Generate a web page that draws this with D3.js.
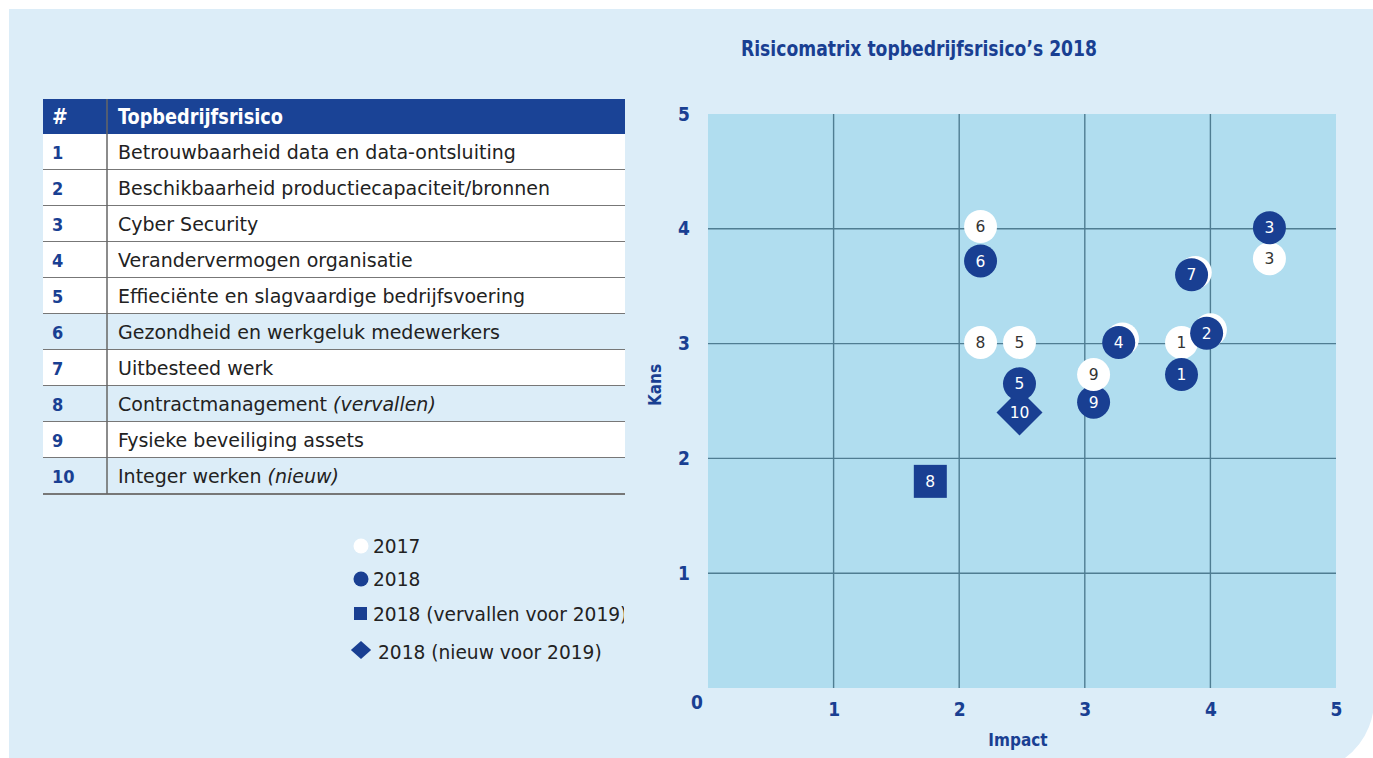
<!DOCTYPE html>
<html>
<head>
<meta charset="utf-8">
<script src="https://cdn.jsdelivr.net/npm/d3@7/dist/d3.min.js"></script>
<style>
  body { margin: 0; background: #fff; }
  svg { display: block; }
</style>
</head>
<body>
<div id="chart"></div>
<script>
// risk table
var riskIds = ["1", "2", "3", "4", "5", "6", "7", "8", "9", "10"];
var riskNames = [
  "Betrouwbaarheid data en data-ontsluiting",
  "Beschikbaarheid productiecapaciteit/bronnen",
  "Cyber Security",
  "Verandervermogen organisatie",
  "Effieciënte en slagvaardige bedrijfsvoering",
  "Gezondheid en werkgeluk medewerkers",
  "Uitbesteed werk",
  "Contractmanagement",
  "Fysieke beveiliging assets",
  "Integer werken"
];
var riskNotes = ["", "", "", "", "", "", "", "(vervallen)", "", "(nieuw)"];

// 2017 positions (white circles)
var labels2017 = ["6", "8", "5", "9", "1", "3", "7", "4", "2"];
var impact2017 = [2.17, 2.17, 2.48, 3.07, 3.77, 4.47, 3.88, 3.30, 4.00];
var kans2017   = [4.02, 3.01, 3.01, 2.73, 3.01, 3.74, 3.62, 3.04, 3.12];
// these 2017 circles sit right behind their 2018 circle, number not visible
var covered2017 = ["7", "4", "2"];

// 2018 positions (dark circles)
var labels2018 = ["6", "3", "7", "2", "4", "1", "9", "5"];
var impact2018 = [2.17, 4.47, 3.85, 3.97, 3.27, 3.77, 3.07, 2.48];
var kans2018   = [3.72, 4.01, 3.60, 3.09, 3.01, 2.73, 2.49, 2.65];

// 2018 vervallen (square) and nieuw (diamond)
var labelsGone = ["8"];
var impactGone = [1.77];
var kansGone   = [1.80];
var labelsNew = ["10"];
var impactNew = [2.48];
var kansNew   = [2.40];

var ticks = [1, 2, 3, 4, 5];
var legendLabels = ["2017", "2018", "2018 (vervallen voor 2019)", "2018 (nieuw voor 2019)"];

var W = 1373, H = 758;
var navy = "#193f92";
var panel = "#dcedf8";
var narrow = "'Liberation Sans Narrow', 'DejaVu Sans Condensed', 'Arial Narrow', sans-serif";
var verd = "'DejaVu Sans', Verdana, sans-serif";

var svg = d3.select("#chart").append("svg")
  .attr("width", W)
  .attr("height", H);

// panel with rounded bottom-right corner
svg.append("path")
  .attr("d", "M9,9 H" + W + " V688 A72,72 0 0 1 1345," + H + " H9 Z")
  .attr("fill", panel);

// ---- table ----
var tx = 43, tw = 582, colX = 107, headTop = 99, headH = 35, rowH = 36;
var table = svg.append("g");

table.append("rect")
  .attr("x", tx).attr("y", headTop)
  .attr("width", tw).attr("height", headH)
  .attr("fill", "#1a4396");

table.append("text")
  .attr("x", 52).attr("y", headTop + 25)
  .attr("fill", "#fff")
  .style("font-family", narrow).style("font-weight", "bold").style("font-size", "21px")
  .text("#");
table.append("text")
  .attr("x", 118).attr("y", headTop + 25)
  .attr("fill", "#fff")
  .attr("textLength", 165).attr("lengthAdjust", "spacingAndGlyphs")
  .style("font-family", narrow).style("font-weight", "bold").style("font-size", "22px")
  .text("Topbedrijfsrisico");

var rows = table.selectAll("g.row")
  .data(riskIds)
  .enter().append("g")
  .attr("class", "row")
  .attr("transform", function(d, i) { return "translate(0," + (headTop + headH + i * rowH) + ")"; });

rows.append("rect")
  .attr("x", tx).attr("width", tw).attr("height", rowH)
  .attr("fill", function(d, i) { return (i === 5 || i === 7 || i === 9) ? panel : "#fff"; });

rows.append("line")
  .attr("x1", tx).attr("x2", tx + tw)
  .attr("y1", rowH).attr("y2", rowH)
  .attr("stroke", "#777").attr("stroke-width", 2);

rows.append("text")
  .attr("x", 52).attr("y", 25)
  .attr("fill", navy)
  .style("font-family", narrow).style("font-weight", "bold").style("font-size", "18px")
  .text(function(d) { return d; });

var desc = rows.append("text")
  .attr("x", 118).attr("y", 25)
  .attr("fill", "#222")
  .style("font-family", verd).style("font-size", "19px");
desc.append("tspan").text(function(d, i) { return riskNames[i]; });
desc.append("tspan")
  .style("font-style", "italic")
  .text(function(d, i) { return riskNotes[i] ? " " + riskNotes[i] : ""; });

table.append("line")
  .attr("x1", colX).attr("x2", colX)
  .attr("y1", headTop).attr("y2", headTop + headH + rowH * riskIds.length)
  .attr("stroke", "#666").attr("stroke-width", 1.5);

// ---- legend ----
svg.append("clipPath").attr("id", "legclip")
  .append("rect").attr("x", 340).attr("y", 520).attr("width", 284).attr("height", 160);

var leg = svg.append("g").attr("clip-path", "url(#legclip)");
var legY = [546, 579, 614, 652];

leg.append("circle").attr("cx", 361).attr("cy", legY[0]).attr("r", 7.5).attr("fill", "#fff");
leg.append("circle").attr("cx", 361).attr("cy", legY[1]).attr("r", 7.5).attr("fill", navy);
leg.append("rect").attr("x", 354).attr("y", legY[2] - 7).attr("width", 13).attr("height", 13).attr("fill", navy);
leg.append("path").attr("d", d3.symbol().type(d3.symbolDiamond2).size(260))
  .attr("transform", "translate(361," + (legY[3] - 2) + ") scale(1,0.9)")
  .attr("fill", navy);

leg.selectAll("text.leg")
  .data(legendLabels)
  .enter().append("text")
  .attr("class", "leg")
  .attr("x", function(d, i) { return i === 3 ? 378 : 373; })
  .attr("y", function(d, i) { return legY[i] + 7; })
  .attr("fill", "#222")
  .style("font-family", verd).style("font-size", "18.6px")
  .text(function(d) { return d; });

// ---- matrix ----
var px0 = 708, px1 = 1336, py0 = 688, py1 = 114;
var x = d3.scaleLinear().domain([0, 5]).range([px0, px1]);
var y = d3.scaleLinear().domain([0, 5]).range([py0, py1]);

svg.append("text")
  .attr("x", 741).attr("y", 56)
  .attr("fill", navy)
  .attr("textLength", 356).attr("lengthAdjust", "spacingAndGlyphs")
  .style("font-family", narrow).style("font-weight", "bold").style("font-size", "22px")
  .text("Risicomatrix topbedrijfsrisico’s 2018");

svg.append("rect")
  .attr("x", px0).attr("y", py1)
  .attr("width", px1 - px0).attr("height", py0 - py1)
  .attr("fill", "#b0ddef");

var grid = svg.append("g").attr("stroke", "#4f7d92").attr("stroke-width", 1.4);
grid.selectAll("line.v")
  .data([1, 2, 3, 4])
  .enter().append("line")
  .attr("x1", function(d) { return x(d); }).attr("x2", function(d) { return x(d); })
  .attr("y1", py1).attr("y2", py0);
grid.selectAll("line.h")
  .data([1, 2, 3, 4])
  .enter().append("line")
  .attr("y1", function(d) { return y(d); }).attr("y2", function(d) { return y(d); })
  .attr("x1", px0).attr("x2", px1);

var xAxis = svg.append("g")
  .attr("transform", "translate(0," + py0 + ")")
  .call(d3.axisBottom(x).tickValues(ticks).tickSize(0).tickPadding(15).tickFormat(d3.format("d")));
var yAxis = svg.append("g")
  .attr("transform", "translate(" + px0 + ",0)")
  .call(d3.axisLeft(y).tickValues(ticks).tickSize(0).tickPadding(18).tickFormat(d3.format("d")));

[xAxis, yAxis].forEach(function(a) {
  a.select(".domain").remove();
  a.selectAll("text")
    .attr("fill", navy)
    .style("font-family", narrow).style("font-weight", "bold").style("font-size", "19px");
});

svg.append("text")
  .attr("x", 697).attr("y", 709)
  .attr("text-anchor", "middle")
  .attr("fill", navy)
  .style("font-family", narrow).style("font-weight", "bold").style("font-size", "19px")
  .text("0");

svg.append("text")
  .attr("x", 1018).attr("y", 746)
  .attr("text-anchor", "middle")
  .attr("fill", navy)
  .style("font-family", narrow).style("font-weight", "bold").style("font-size", "17px")
  .text("Impact");

svg.append("text")
  .attr("transform", "translate(661,385) rotate(-90)")
  .attr("text-anchor", "middle")
  .attr("fill", navy)
  .style("font-family", narrow).style("font-weight", "bold").style("font-size", "17px")
  .text("Kans");

// markers
var r = 16.5;
var marks = svg.append("g");

function addMarks(labels, xs, ys, kind, fill, textFill, hidden) {
  var g = marks.selectAll(null)
    .data(labels.map(function(l, i) { return { label: l, x: xs[i], y: ys[i] }; }))
    .enter().append("g")
    .attr("transform", function(d) { return "translate(" + x(d.x) + "," + y(d.y) + ")"; });
  if (kind === "circle") {
    g.append("circle").attr("r", r).attr("fill", fill);
  } else if (kind === "square") {
    g.append("rect").attr("x", -16.5).attr("y", -16.5).attr("width", 33).attr("height", 33).attr("fill", fill);
  } else {
    g.append("path").attr("d", "M0,-23 L23,0 L0,23 L-23,0 Z").attr("fill", fill);
  }
  g.filter(function(d) { return !hidden || hidden.indexOf(d.label) < 0; })
    .append("text")
    .attr("text-anchor", "middle")
    .attr("dy", "0.36em")
    .attr("fill", textFill)
    .style("font-family", verd).style("font-size", "15.5px")
    .text(function(d) { return d.label; });
  return g;
}

var g2017 = addMarks(labels2017, impact2017, kans2017, "circle", "#fff", "#333", covered2017);
addMarks(labelsNew, impactNew, kansNew, "diamond", navy, "#fff");
addMarks(labels2018, impact2018, kans2018, "circle", navy, "#fff");
addMarks(labelsGone, impactGone, kansGone, "square", navy, "#fff");
// white 9 sits on top of the dark 9
g2017.filter(function(d) { return d.label === "9"; }).raise();
</script>
</body>
</html>
